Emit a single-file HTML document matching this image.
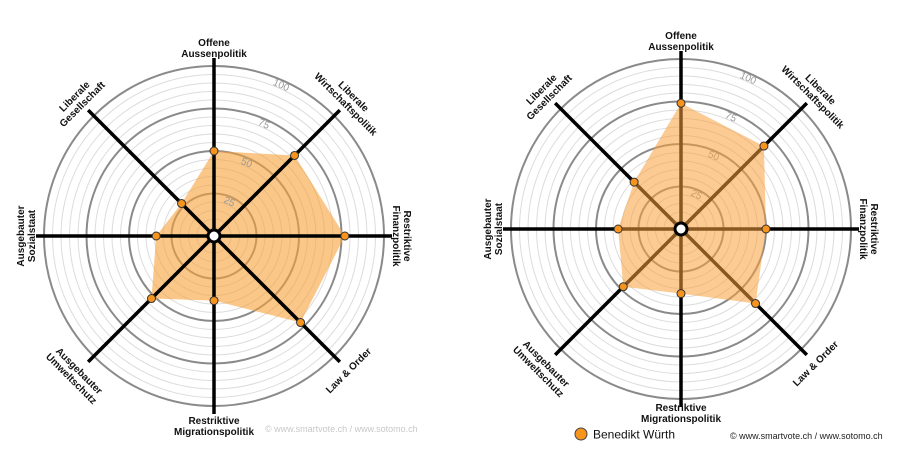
<!DOCTYPE html>
<html><head><meta charset="utf-8">
<style>
html,body{margin:0;padding:0;background:#fff;}
svg{display:block;font-family:"Liberation Sans",sans-serif;}
</style></head>
<body>
<svg id="s" width="900" height="466" viewBox="0 0 900 466" xmlns="http://www.w3.org/2000/svg"></svg>
<script>
var NS="http://www.w3.org/2000/svg",S=document.getElementById('s');
function el(t,a,txt,p){var e=document.createElementNS(NS,t);for(var k in a)e.setAttribute(k,a[k]);if(txt!=null)e.textContent=txt;(p||S).appendChild(e);return e;}
var labels=[["Offene","Aussenpolitik"],["Liberale","Wirtschaftspolitik"],["Restriktive","Finanzpolitik"],["Law & Order"],["Restriktive","Migrationspolitik"],["Ausgebauter","Umweltschutz"],["Ausgebauter","Sozialstaat"],["Liberale","Gesellschaft"]];
var rots=[0,45,90,-45,0,45,-90,-45];
function chart(cx,cy,vals,fillOnTop,op,lrs){
  var R=170,k=1.7;
  for(var v=5;v<=100;v+=5){var maj=v%25==0;
    el('circle',{cx:cx,cy:cy,r:v*k,fill:'none',stroke:maj?'#8a8a8a':'#dcdcdc','stroke-width':maj?2:1});}
  var pts=[];
  for(var i=0;i<8;i++){var a=(i*45-90)*Math.PI/180;pts.push([cx+Math.cos(a)*vals[i]*k,cy+Math.sin(a)*vals[i]*k]);}
  var poly=pts.map(function(p){return p[0].toFixed(1)+','+p[1].toFixed(1)}).join(' ');
  if(!fillOnTop) el('polygon',{points:poly,fill:'#f7a13a','fill-opacity':op});
  [25,50,75,100].forEach(function(v){var r=v*k-5,a=(24-90)*Math.PI/180;
    el('text',{x:cx+Math.cos(a)*r,y:cy+Math.sin(a)*r+3,'font-size':10,fill:'#9a9a9a','text-anchor':'middle',transform:'rotate(24 '+(cx+Math.cos(a)*r)+' '+(cy+Math.sin(a)*r)+')'},String(v));});
  for(var i=0;i<8;i++){var a=(i*45-90)*Math.PI/180;
    el('line',{x1:cx,y1:cy,x2:cx+Math.cos(a)*(R+8),y2:cy+Math.sin(a)*(R+8),stroke:'#000','stroke-width':3.5});}
  if(fillOnTop) el('polygon',{points:poly,fill:'#f7a13a','fill-opacity':op});
  el('circle',{cx:cx,cy:cy,r:6,fill:'#fff',stroke:'#000','stroke-width':3});
  pts.forEach(function(p){el('circle',{cx:p[0],cy:p[1],r:4,fill:'#f7941d',stroke:'#333','stroke-width':1});});
  for(var i=0;i<8;i++){var a=(i*45-90)*Math.PI/180,r=lrs[i];
    var x=cx+Math.cos(a)*r,y=cy+Math.sin(a)*r;
    var g=el('g',{transform:'translate('+x.toFixed(1)+','+y.toFixed(1)+') rotate('+rots[i]+')'});
    var L=labels[i];
    if(L.length==1) el('text',{x:0,y:3.5,'font-size':10,'font-weight':'bold','text-anchor':'middle',fill:'#111'},L[0],g);
    else{el('text',{x:0,y:-2,'font-size':10,'font-weight':'bold','text-anchor':'middle',fill:'#111'},L[0],g);
         el('text',{x:0,y:9,'font-size':10,'font-weight':'bold','text-anchor':'middle',fill:'#111'},L[1],g);}
  }
}
chart(214,236,[50,67,77,72,38,52,34,27],false,0.6,[188,192,188,190,190,196,188,192]);
chart(681,229,[74,69,50,62,38,48,37,39],true,0.55,[188,192,188,190,184,196,188,192]);
el('text',{x:265,y:432,'font-size':9,fill:'#c8c8c8'},"© www.smartvote.ch / www.sotomo.ch");
el('circle',{cx:581,cy:434,r:6,fill:'#f7941d',stroke:'#444','stroke-width':1});
el('text',{x:593,y:438.5,'font-size':12,fill:'#111'},"Benedikt Würth");
el('text',{x:730,y:439,'font-size':9,fill:'#222'},"© www.smartvote.ch / www.sotomo.ch");
</script>
</body></html>
